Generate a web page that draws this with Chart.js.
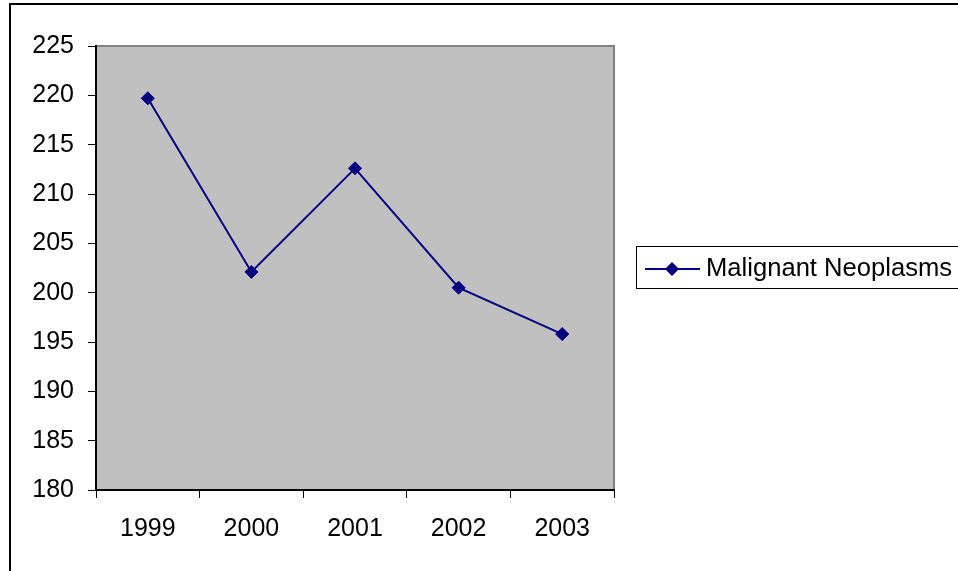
<!DOCTYPE html>
<html>
<head>
<meta charset="utf-8">
<script src="https://cdn.jsdelivr.net/npm/chart.js@4"></script>
<style>
  html, body { margin: 0; padding: 0; background: #fff; }
  #wrap { position: relative; width: 958px; height: 571px; }
</style>
</head>
<body>
<div id="wrap"><canvas id="chart" width="958" height="571"></canvas></div>
<script>
const years = ['1999', '2000', '2001', '2002', '2003'];
const neoplasms = [219.7, 202.1, 212.6, 200.5, 195.8];
const seriesName = 'Malignant Neoplasms';
const yMin = 180, yMax = 225, yStep = 5;

const FONT = "'Liberation Sans', Arial, sans-serif";
const NAVY = '#000080';

// gray plot area, grey border, outer black frame
const backdrop = {
    id: 'backdrop',
    beforeDraw(chart) {
        const { ctx, chartArea: a } = chart;
        ctx.save();
        ctx.fillStyle = '#fff';
        ctx.fillRect(0, 0, chart.width, chart.height);
        ctx.strokeStyle = '#000';
        ctx.lineWidth = 2;
        ctx.strokeRect(10, 4, chart.width + 20, chart.height + 20);
        ctx.fillStyle = '#c0c0c0';
        ctx.fillRect(a.left, a.top, a.right - a.left, a.bottom - a.top);
        ctx.strokeStyle = '#808080';
        ctx.lineWidth = 2;
        ctx.strokeRect(a.left, a.top, a.right - a.left, a.bottom - a.top);
        ctx.restore();
    }
};

// boxed legend on the right
const boxLegend = {
    id: 'boxLegend',
    afterDraw(chart) {
        const { ctx } = chart;
        const ds = chart.data.datasets[0];
        const x0 = 636.5, y0 = 246.5, cy = 269;
        ctx.save();
        ctx.strokeStyle = '#000';
        ctx.lineWidth = 1;
        ctx.strokeRect(x0, y0, 400, 42);
        ctx.strokeStyle = NAVY;
        ctx.lineWidth = 2;
        ctx.beginPath();
        ctx.moveTo(645, cy);
        ctx.lineTo(700, cy);
        ctx.stroke();
        ctx.fillStyle = NAVY;
        ctx.beginPath();
        ctx.moveTo(672, cy - 7);
        ctx.lineTo(679, cy);
        ctx.lineTo(672, cy + 7);
        ctx.lineTo(665, cy);
        ctx.closePath();
        ctx.fill();
        ctx.fillStyle = '#000';
        ctx.font = '25.6px ' + FONT;
        ctx.textBaseline = 'middle';
        ctx.fillText(ds.label, 706, cy);
        ctx.restore();
    }
};

new Chart(document.getElementById('chart'), {
    type: 'line',
    data: {
        labels: years,
        datasets: [{
            label: seriesName,
            data: neoplasms,
            borderColor: NAVY,
            backgroundColor: NAVY,
            borderWidth: 2,
            pointStyle: 'rectRot',
            pointRadius: 6.5,
            pointBorderWidth: 1,
            tension: 0
        }]
    },
    options: {
        responsive: false,
        animation: false,
        devicePixelRatio: 1,
        layout: { padding: { left: 0, top: 46, right: 344, bottom: 0 } },
        plugins: { legend: { display: false }, tooltip: { enabled: false } },
        scales: {
            x: {
                type: 'category',
                offset: true,
                afterFit(s) { s.height = 81; },
                grid: { offset: true, drawOnChartArea: false, tickLength: 8, color: '#000', tickWidth: 1 },
                border: { display: true, color: '#000', width: 2 },
                ticks: { color: '#000', font: { family: FONT, size: 25 }, padding: 16, maxRotation: 0 }
            },
            y: {
                min: yMin,
                max: yMax,
                afterFit(s) { s.width = 96; },
                grid: { drawOnChartArea: false, tickLength: 8, color: '#000', tickWidth: 1 },
                border: { display: true, color: '#000', width: 2 },
                ticks: { stepSize: yStep, color: '#000', font: { family: FONT, size: 25 }, padding: 14 }
            }
        }
    },
    plugins: [backdrop, boxLegend]
});
</script>
</body>
</html>
